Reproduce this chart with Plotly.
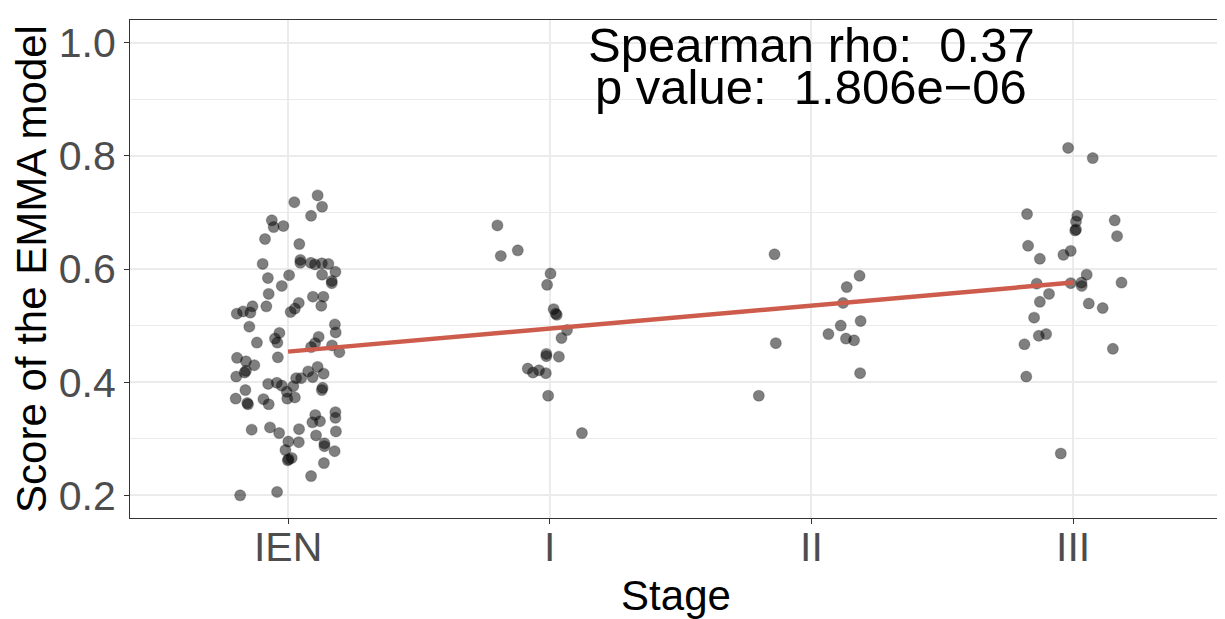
import plotly.graph_objects as go

# stage categories along the x axis
stages = ['IEN', 'I', 'II', 'III']

# jitter offsets (in category units) and scores, per stage
ien_jitter = [0.113, 0.024, 0.130, 0.088, -0.062, -0.055, -0.018, -0.088, 0.043, -0.097,
              0.047, 0.047, 0.087, 0.103, 0.129, 0.154, 0.181, 0.130, 0.167, 0.167,
              -0.077, 0.004, -0.024, -0.074, 0.095, 0.135, 0.127, -0.083, -0.136, -0.172,
              -0.196, -0.144, 0.041, 0.026, 0.010, -0.148, 0.179, 0.182, -0.033, -0.050,
              0.117, -0.119, -0.041, 0.103, 0.088, 0.168, 0.196, -0.195, -0.161, -0.129,
              -0.039, -0.198, -0.161, -0.166, -0.076, -0.043, -0.024, -0.005, 0.020, 0.031,
              0.050, 0.077, 0.094, 0.113, 0.136, 0.129, 0.132, -0.163, -0.200, -0.156,
              -0.153, -0.094, -0.074, -0.003, 0.026, 0.104, 0.093, 0.122, 0.181, 0.181,
              0.183, -0.139, -0.069, -0.034, 0.042, 0.107, 0.001, 0.041, 0.139, 0.139,
              0.178, -0.010, 0.014, -0.001, 0.002, 0.137, 0.088, -0.183, -0.042]
ien_score = [0.730, 0.718, 0.710, 0.694, 0.686, 0.674, 0.676, 0.653, 0.644, 0.609,
             0.616, 0.611, 0.611, 0.608, 0.610, 0.609, 0.595, 0.590, 0.579, 0.575,
             0.584, 0.589, 0.570, 0.556, 0.551, 0.551, 0.535, 0.534, 0.534, 0.525,
             0.521, 0.523, 0.540, 0.530, 0.524, 0.498, 0.502, 0.488, 0.487, 0.477,
             0.480, 0.470, 0.470, 0.469, 0.462, 0.465, 0.453, 0.443, 0.437, 0.430,
             0.444, 0.410, 0.420, 0.417, 0.397, 0.399, 0.394, 0.383, 0.393, 0.407,
             0.407, 0.419, 0.409, 0.427, 0.415, 0.386, 0.390, 0.386, 0.371, 0.363,
             0.361, 0.370, 0.361, 0.371, 0.373, 0.342, 0.329, 0.331, 0.347, 0.337,
             0.313, 0.316, 0.320, 0.310, 0.317, 0.306, 0.295, 0.294, 0.292, 0.287,
             0.278, 0.280, 0.266, 0.262, 0.264, 0.257, 0.234, 0.200, 0.206]

s1_jitter = [-0.200, -0.187, -0.122, 0.003, -0.010, 0.015, 0.023, 0.027, 0.066, 0.045,
             -0.013, -0.013, 0.035, -0.084, -0.064, -0.041, -0.015, -0.006, 0.123]
s1_score = [0.677, 0.623, 0.633, 0.592, 0.572, 0.529, 0.521, 0.519, 0.492, 0.478,
            0.450, 0.446, 0.445, 0.424, 0.417, 0.421, 0.416, 0.376, 0.310]

s2_jitter = [-0.141, 0.184, 0.135, 0.121, 0.188, 0.112, 0.065, 0.132, 0.163, -0.136,
             0.186, -0.201]
s2_score = [0.626, 0.588, 0.568, 0.540, 0.508, 0.500, 0.485, 0.477, 0.474, 0.469,
            0.416, 0.376]

s3_jitter = [-0.019, 0.075, -0.176, 0.016, 0.011, 0.011, 0.008, 0.159, 0.168, -0.172,
             -0.127, -0.037, -0.009, 0.052, -0.009, 0.032, 0.033, 0.185, -0.139, -0.092,
             -0.127, 0.060, 0.113, -0.149, -0.131, -0.103, -0.186, 0.152, -0.179, -0.047]
s3_score = [0.814, 0.796, 0.697, 0.694, 0.684, 0.670, 0.668, 0.686, 0.658, 0.641,
            0.618, 0.625, 0.632, 0.590, 0.575, 0.576, 0.570, 0.576, 0.574, 0.556,
            0.542, 0.539, 0.531, 0.514, 0.482, 0.485, 0.467, 0.459, 0.410, 0.274]

# linear fit as drawn, at the first and last stage
fit_stages = ['IEN', 'III']
fit_score = [0.454, 0.576]

rho_text = 'Spearman rho:  0.37'
p_text = 'p value:  1.806e\u221206'

groups = [(ien_jitter, ien_score), (s1_jitter, s1_score),
          (s2_jitter, s2_score), (s3_jitter, s3_score)]

xs, ys = [], []
for i, (jit, sc) in enumerate(groups):
    xs += [i + j for j in jit]
    ys += sc

fig = go.Figure()

fig.add_trace(go.Scatter(
    x=xs, y=ys, mode='markers',
    marker=dict(size=11, color='rgba(0,0,0,0.5)',
                line=dict(width=1.2, color='rgba(0,0,0,0.22)')),
    showlegend=False, hoverinfo='skip'))

fig.add_trace(go.Scatter(
    x=[stages.index(s) for s in fit_stages], y=fit_score, mode='lines',
    line=dict(color='#CD5C4C', width=4.5),
    showlegend=False, hoverinfo='skip'))

font = 'Liberation Sans, Arial, Helvetica, sans-serif'

# the page body adds an 8px offset, so the figure is a bit smaller than the window
W, H = 1217, 611
top, bottom = 12, 101
plot_h = H - top - bottom
for txt, py in [(rho_text, 37), (p_text, 79)]:
    fig.add_annotation(x=2, y=1 - (py - top) / plot_h, xref='x', yref='paper',
                       yanchor='middle', text=txt, showarrow=False,
                       font=dict(size=49, color='black', family=font))

fig.update_layout(
    width=W, height=H,
    margin=dict(l=122, r=3, t=top, b=bottom),
    paper_bgcolor='white', plot_bgcolor='white',
    font=dict(family=font),
)

fig.update_xaxes(
    range=[-0.604, 3.569], automargin=False,
    tickvals=list(range(len(stages))), ticktext=stages,
    tickfont=dict(size=41, color='#4D4D4D'),
    ticks='outside', ticklen=5, tickwidth=1.2, tickcolor='#333333',
    ticklabelstandoff=-12,
    showgrid=True, gridcolor='#EBEBEB', gridwidth=2,
    showline=True, linecolor='#333333', linewidth=1.2, mirror=True,
    zeroline=False,
    title=dict(text='Stage', font=dict(size=42, color='black'), standoff=11),
)
fig.update_yaxes(
    range=[0.16, 1.04], automargin=False,
    tickvals=[0.2, 0.4, 0.6, 0.8, 1.0], ticktext=['0.2', '0.4', '0.6', '0.8', '1.0'],
    tickfont=dict(size=41, color='#4D4D4D'),
    ticks='outside', ticklen=5, tickwidth=1.2, tickcolor='#333333',
    showgrid=True, gridcolor='#EBEBEB', gridwidth=2,
    minor=dict(tickvals=[0.3, 0.5, 0.7, 0.9], showgrid=True, gridcolor='#EBEBEB', gridwidth=1),
    showline=True, linecolor='#333333', linewidth=1.2, mirror=True,
    zeroline=False,
    title=dict(text='Score of the EMMA model', font=dict(size=42, color='black'), standoff=0),
)

fig.write_html('out.html')
